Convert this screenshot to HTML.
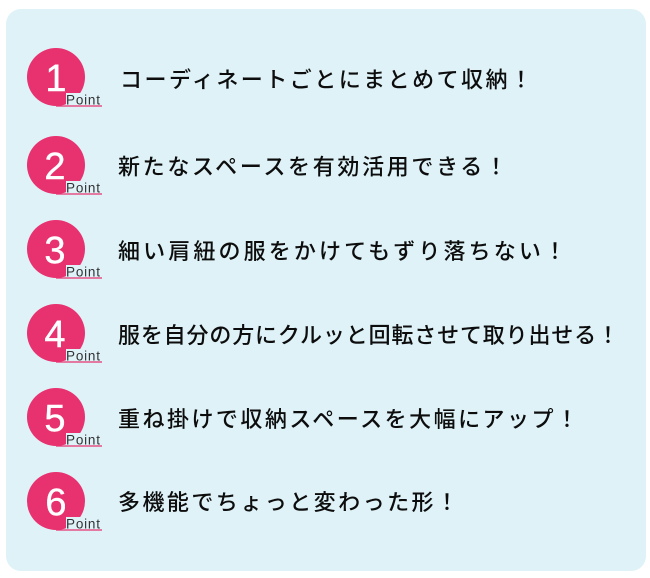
<!DOCTYPE html>
<html lang="ja"><head><meta charset="utf-8">
<style>
html,body{margin:0;padding:0;background:#fff;width:650px;height:578px;overflow:hidden}
svg{display:block}
.t{font-family:"Liberation Sans","Noto Sans CJK JP",sans-serif;font-size:22px;font-weight:500;fill:#111}
.n{font-family:"Liberation Sans","Noto Sans CJK JP",sans-serif;font-size:38px;fill:#fff;stroke:#fff;stroke-width:.4;text-anchor:middle}
.p{font-family:"Liberation Sans",sans-serif;font-size:13.5px;fill:#333}
</style></head><body>
<svg width="650" height="578" viewBox="0 0 650 578" xmlns="http://www.w3.org/2000/svg">
<filter id="b"><feGaussianBlur stdDeviation="0.35"/></filter>
<rect x="6" y="9" width="640" height="562" rx="15" fill="#def2f7"/>
<g filter="url(#b)">
<circle cx="56" cy="77" r="29" fill="#e8306f"/><text class="n" x="56" y="91">1</text>
<rect x="66" y="93" width="36" height="13" fill="#def2f7"/><path d="M56 106H102" stroke="#e8306f" stroke-width="1.3"/>
<text class="p" x="66" y="104.5" textLength="34" lengthAdjust="spacing">Point</text>
<text class="t" x="120" y="87.5" textLength="412" lengthAdjust="spacing">コーディネートごとにまとめて収納！</text>

<circle cx="56" cy="165" r="29" fill="#e8306f"/><text class="n" x="55" y="179">2</text>
<rect x="66" y="181" width="36" height="13" fill="#def2f7"/><path d="M56 194H102" stroke="#e8306f" stroke-width="1.3"/>
<text class="p" x="66" y="192.5" textLength="34" lengthAdjust="spacing">Point</text>
<text class="t" x="118" y="174.5" textLength="389" lengthAdjust="spacing">新たなスペースを有効活用できる！</text>

<circle cx="56" cy="249" r="29" fill="#e8306f"/><text class="n" x="55" y="263">3</text>
<rect x="66" y="265" width="36" height="13" fill="#def2f7"/><path d="M56 278H102" stroke="#e8306f" stroke-width="1.3"/>
<text class="p" x="66" y="276.5" textLength="34" lengthAdjust="spacing">Point</text>
<text class="t" x="118" y="259" textLength="448" lengthAdjust="spacing">細い肩紐の服をかけてもずり落ちない！</text>

<circle cx="56" cy="333" r="29" fill="#e8306f"/><text class="n" x="55" y="347">4</text>
<rect x="66" y="349" width="36" height="13" fill="#def2f7"/><path d="M56 362H102" stroke="#e8306f" stroke-width="1.3"/>
<text class="p" x="66" y="360.5" textLength="34" lengthAdjust="spacing">Point</text>
<text class="t" x="118" y="343" textLength="501" lengthAdjust="spacing">服を自分の方にクルッと回転させて取り出せる！</text>

<circle cx="56" cy="417" r="29" fill="#e8306f"/><text class="n" x="55" y="431">5</text>
<rect x="66" y="433" width="36" height="13" fill="#def2f7"/><path d="M56 446H102" stroke="#e8306f" stroke-width="1.3"/>
<text class="p" x="66" y="444.5" textLength="34" lengthAdjust="spacing">Point</text>
<text class="t" x="118" y="427" textLength="460" lengthAdjust="spacing">重ね掛けで収納スペースを大幅にアップ！</text>

<circle cx="56" cy="501" r="29" fill="#e8306f"/><text class="n" x="56" y="515">6</text>
<rect x="66" y="517" width="36" height="13" fill="#def2f7"/><path d="M56 530H102" stroke="#e8306f" stroke-width="1.3"/>
<text class="p" x="66" y="528.5" textLength="34" lengthAdjust="spacing">Point</text>
<text class="t" x="118" y="510" textLength="340" lengthAdjust="spacing">多機能でちょっと変わった形！</text>
</g>
</svg>
</body></html>
